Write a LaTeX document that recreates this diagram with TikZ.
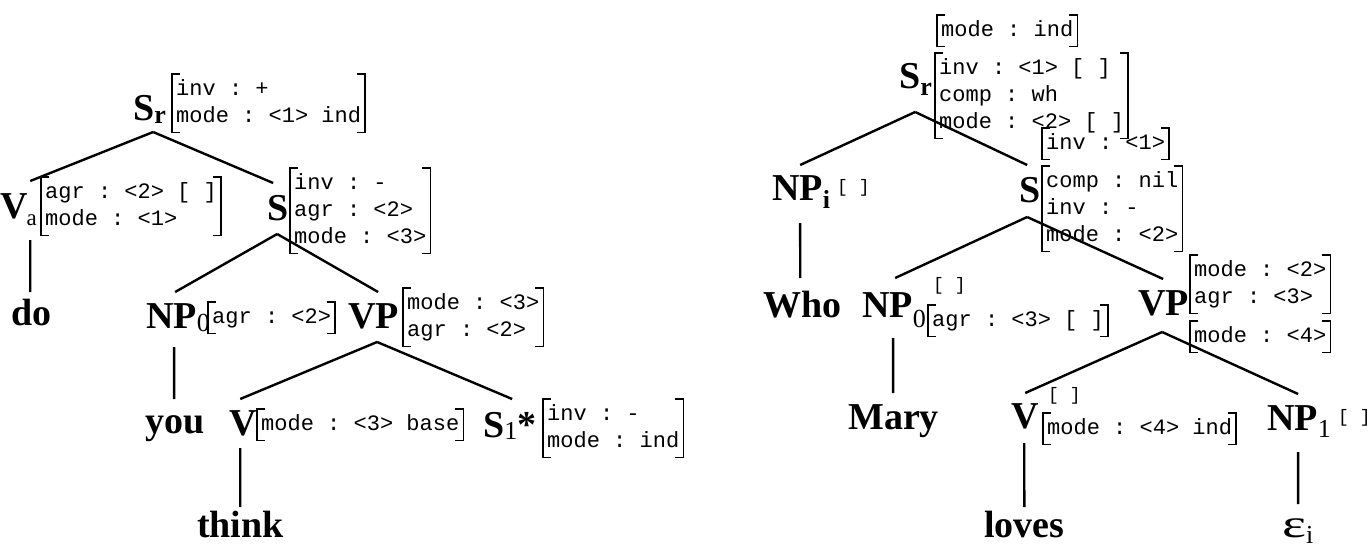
\documentclass[tikz,border=0pt]{standalone}
\usepackage{fontspec}
\setmainfont{Liberation Serif}
\setmonofont{Liberation Mono}
\usepackage{graphicx}
\newcommand{\avmtab}[1]{\begin{tabular}{@{}l@{}}#1\end{tabular}}
\newcommand{\subm}[2]{\rlap{\raisebox{-#1}{\fontsize{26}{26}\selectfont\mdseries #2}}}
\newcommand{\subb}[2]{\rlap{\raisebox{-#1}{\fontsize{26}{26}\selectfont\bfseries #2}}}
\newcommand{\avmbr}[1]{%
  \draw[brk] ([xshift=8pt]#1.north west) -- (#1.north west) -- (#1.south west) -- ([xshift=8pt]#1.south west);
  \draw[brk] ([xshift=-8pt]#1.north east) -- (#1.north east) -- (#1.south east) -- ([xshift=-8pt]#1.south east);}
\begin{document}
\begin{tikzpicture}[x=1pt,y=-1pt,
  lab/.style={font=\fontsize{38}{42}\selectfont\bfseries, inner sep=0pt, anchor=base west},
  avm/.style={font=\fontsize{22}{27}\selectfont\ttfamily, inner xsep=4pt, inner ysep=2pt, anchor=north west},
  emp/.style={font=\fontsize{18}{18}\selectfont\ttfamily, inner sep=0pt, anchor=west},
  branch/.style={line width=2.4pt},
  brk/.style={line width=1.8pt}]
\useasboundingbox (0,0) rectangle (1372,550);

% ---------------- left tree ----------------
\node[lab] (lSr) at (133,120) {S\subb{3pt}{r}};
\node[lab] (lVa) at (0,218) {V\rlap{\kern-1pt\raisebox{-7pt}{\fontsize{23}{23}\selectfont\mdseries a}}};
\node[lab] (lS) at (267,220) {S};
\node[lab] (ldo) at (11,325) {do};
\node[lab] (lNP) at (146,328) {NP\subm{3pt}{0}};
\node[lab] (lVP) at (348,328) {VP};
\node[lab] (lyou) at (145,433) {you};
\node[lab] (lV) at (229,435) {V};
\node[lab] (lS1) at (483,437) {S\rlap{\raisebox{-2pt}{\fontsize{26}{26}\selectfont\mdseries 1}*}};
\node[lab] (lthink) at (197,537) {think};

\node[avm] (aSr) at (172,74) {\avmtab{inv : +\\mode : <1> ind}};
\node[avm] (aVa) at (41,177) {\avmtab{agr : <2> [ ]\hspace{9pt}\\mode : <1>}};
\node[avm] (aS) at (290,168) {\avmtab{inv : -\\agr : <2>\\mode : <3>}};
\node[avm] (aNP) at (208,302) {\avmtab{agr : <2>}};
\node[avm] (aVP) at (403,288) {\avmtab{mode : <3>\\agr : <2>}};
\node[avm] (aV) at (257,409) {\avmtab{mode : <3> base}};
\node[avm] (aS1) at (543,399) {\avmtab{inv : -\\mode : ind}};

\foreach \n in {aSr,aVa,aS,aNP,aVP,aV,aS1} {\avmbr{\n}}

\draw[branch] ([xshift=9.4pt,yshift=-12pt]lSr.base) -- ([xshift=16.3pt,yshift=37pt]lVa.base);
\draw[branch] ([xshift=9.4pt,yshift=-12pt]lSr.base) -- ([xshift=-4.6pt,yshift=37pt]lS.base);
\draw[branch] ([xshift=16.3pt,yshift=-22pt]lVa.base) -- ([xshift=-1pt,yshift=33pt]ldo.base);
\draw[branch] ([xshift=-0.6pt,yshift=-14pt]lS.base) -- ([xshift=3.6pt,yshift=36pt]lNP.base);
\draw[branch] ([xshift=-0.6pt,yshift=-14pt]lS.base) -- ([xshift=4.6pt,yshift=36pt]lVP.base);
\draw[branch] ([xshift=2.6pt,yshift=-19pt]lNP.base) -- ([xshift=-0.6pt,yshift=34pt]lyou.base);
\draw[branch] ([xshift=3.6pt,yshift=-14pt]lVP.base) -- ([xshift=-2.7pt,yshift=36pt]lV.base);
\draw[branch] ([xshift=3.6pt,yshift=-14pt]lVP.base) -- ([xshift=18.4pt,yshift=38pt]lS1.base);
\draw[branch] ([xshift=-2.7pt,yshift=-13pt]lV.base) -- ([xshift=-0.3pt,yshift=30pt]lthink.base);

% ---------------- right tree ----------------
\node[lab] (rSr) at (899,88) {S\subb{7pt}{r}};
\node[lab] (rNPi) at (772,200) {NP\subb{8pt}{i}};
\node[lab] (rS) at (1019,202) {S};
\node[lab] (rWho) at (763,317) {Who};
\node[lab] (rNP0) at (862,317) {NP\subm{10pt}{0}};
\node[lab] (rVP) at (1138,315) {VP};
\node[lab] (rMary) at (848,429) {Mary};
\node[lab] (rV) at (1011,428) {V};
\node[lab] (rNP1) at (1267,430) {NP\subm{7pt}{1}};
\node[lab] (rloves) at (984,537) {loves};
\node[lab] (reps) at (1282,537) {\mdseries\scalebox{1.5}[1.05]{ε}\subm{6pt}{i}};

\node[avm] (bTop) at (937,15) {\avmtab{mode : ind}};
\node[avm] (bSr) at (935,53) {\avmtab{inv : <1> [ ]\\comp : wh\\mode : <2> [ ]}};
\node[avm] (bInv) at (1042,128) {\avmtab{inv : <1>}};
\node[avm] (bS) at (1042,166) {\avmtab{comp : nil\hspace{6pt}\\inv : -\\mode : <2>}};
\node[avm] (bVP) at (1190,255) {\avmtab{mode : <2>\\agr : <3>}};
\node[avm] (bVPm) at (1190,321) {\avmtab{mode : <4>}};
\node[avm] (bNP0) at (928,305) {\avmtab{agr : <3> [ ]}};
\node[avm] (bV) at (1043,413) {\avmtab{mode : <4> ind}};

\foreach \n in {bTop,bSr,bInv,bS,bVP,bVPm,bNP0,bV} {\avmbr{\n}}

\node[emp] (eNPi) at (837,188) {[ ]};
\node[emp] (eNP0) at (933,286) {[ ]};
\node[emp] (eV) at (1048,396) {[ ]};
\node[emp] (eNP1) at (1338,418) {[ ]};

\draw[branch] ([xshift=5.4pt,yshift=-24pt]rSr.base) -- ([xshift=2.6pt,yshift=35pt]rNPi.base);
\draw[branch] ([xshift=5.4pt,yshift=-24pt]rSr.base) -- ([xshift=-2.6pt,yshift=37pt]rS.base);
\draw[branch] ([xshift=2.6pt,yshift=-23pt]rNPi.base) -- ([xshift=-2pt,yshift=39pt]rWho.base);
\draw[branch] ([xshift=-2.6pt,yshift=-15pt]rS.base) -- ([xshift=7.6pt,yshift=39pt]rNP0.base);
\draw[branch] ([xshift=-2.6pt,yshift=-15pt]rS.base) -- ([xshift=-0.4pt,yshift=36pt]rVP.base);
\draw[branch] ([xshift=5.6pt,yshift=-21pt]rNP0.base) -- ([xshift=-0.4pt,yshift=36pt]rMary.base);
\draw[branch] ([xshift=-1.4pt,yshift=-17pt]rVP.base) -- ([xshift=0.3pt,yshift=35pt]rV.base);
\draw[branch] ([xshift=-1.4pt,yshift=-17pt]rVP.base) -- ([xshift=5.6pt,yshift=36pt]rNP1.base);
\draw[branch] ([xshift=-0.7pt,yshift=-15pt]rV.base) -- ([xshift=0pt,yshift=30pt]rloves.base);
\draw[branch] ([xshift=5.6pt,yshift=-22pt]rNP1.base) -- ([xshift=3.9pt,yshift=33pt]reps.base);
\end{tikzpicture}
\end{document}
